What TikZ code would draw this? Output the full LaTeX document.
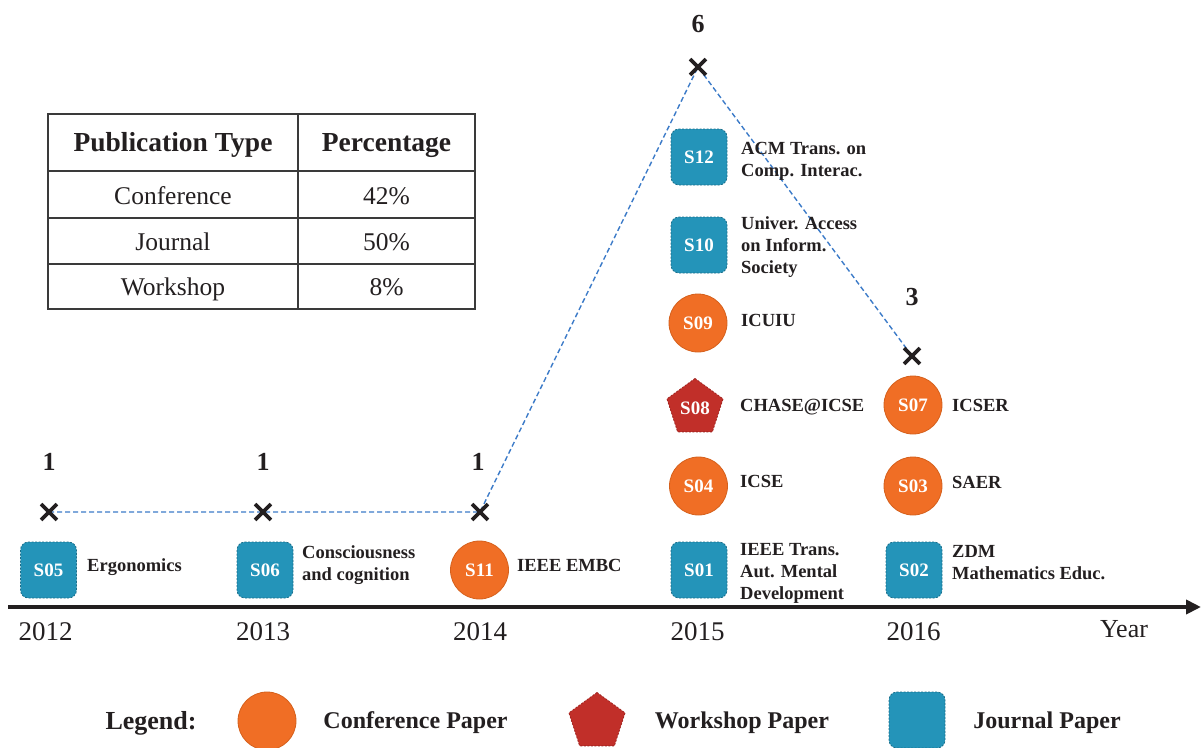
\documentclass[tikz,border=0pt]{standalone}
\usepackage{fontspec}
\setmainfont{Liberation Serif}
\usetikzlibrary{shapes.geometric,shapes.misc,arrows.meta,backgrounds}

\definecolor{confor}{HTML}{F06E25}
\definecolor{confedge}{HTML}{D5601C}
\definecolor{jrnl}{HTML}{2494B9}
\definecolor{jrnledge}{HTML}{1A6E8A}
\definecolor{wkshp}{HTML}{C12F29}
\definecolor{wkedge}{HTML}{A02420}
\definecolor{trend}{HTML}{3C7BC8}
\definecolor{ink}{HTML}{231F20}
\definecolor{rule}{HTML}{3A3A3A}

\tikzset{
  idfont/.style={font=\fontsize{19}{22}\selectfont\bfseries, text=white},
  conf/.style={circle, fill=confor, draw=confedge, line width=0.8pt,
    minimum size=58pt, inner sep=0pt, idfont},
  jour/.style={rectangle, rounded corners=8pt, fill=jrnl, draw=jrnledge,
    dash pattern=on 2pt off 1.5pt, line width=0.8pt,
    minimum width=56pt, minimum height=56pt, inner sep=0pt, idfont},
  wshop/.style={regular polygon, regular polygon sides=5, minimum size=59pt,
    fill=wkshp, draw=wkedge, dash pattern=on 2pt off 1.5pt, line width=0.8pt,
    inner sep=0pt, idfont},
  % multi-line venues are placed by the baseline of their last line
  venue/.style={anchor=base west, align=left, inner sep=0pt, text=ink,
    font=\fontsize{18.5}{22}\selectfont\bfseries},
  count/.style={anchor=base, inner sep=0pt, text=ink,
    font=\fontsize{26}{30}\selectfont\bfseries},
  yearlab/.style={anchor=base, inner sep=0pt, text=ink,
    font=\fontsize{27}{30}\selectfont},
  xmark/.style={cross out, draw=ink, line width=3.8pt, minimum size=12pt,
    inner sep=0pt},
  trendline/.style={draw=trend, dash pattern=on 5pt off 3pt, line width=1.4pt},
  cellhead/.style={anchor=base, inner sep=0pt, text=ink,
    font=\fontsize{27.5}{30}\selectfont\bfseries},
  cell/.style={anchor=base, inner sep=0pt, text=ink,
    font=\fontsize{25.5}{30}\selectfont},
  legtext/.style={anchor=base, inner sep=0pt, text=ink,
    font=\fontsize{24}{28}\selectfont\bfseries},
}

\begin{document}
\begin{tikzpicture}[x=1pt, y=-1pt]
\useasboundingbox (0,0) rectangle (1202,747);
\clip (0,0) rectangle (1202,747);

% summary table
\draw[rule, line width=1.5pt] (48,114) rectangle (475,309);
\draw[rule, line width=1.5pt] (298,114) -- (298,309);
\foreach \yy in {171,218,264} \draw[rule, line width=1.2pt] (48,\yy) -- (475,\yy);
\node[cellhead] (h1) at (173,151) {Publication Type};
\node[cellhead] (h2) at (386.5,151) {Percentage};
\node[cell] (c1) at (173,204) {Conference};
\node[cell] (p1) at (386.5,204) {42\%};
\node[cell] (c2) at (173,250) {Journal};
\node[cell] (p2) at (386.5,250) {50\%};
\node[cell] (c3) at (173,295) {Workshop};
\node[cell] (p3) at (386.5,295) {8\%};

% time axis
\coordinate (axstart) at (8,607);
\coordinate (axend) at (1201,607);
\draw[ink, line width=4pt, -{Triangle[length=15pt, width=14pt]}] (axstart) -- (axend);
\node[yearlab] (y12) at (45.5,640) {2012};
\node[yearlab] (y13) at (263,640) {2013};
\node[yearlab] (y14) at (480,640) {2014};
\node[yearlab] (y15) at (697.5,640) {2015};
\node[yearlab] (y16) at (913.5,640) {2016};
\node[yearlab, font=\fontsize{26}{30}\selectfont] (ylab) at (1124,637) {Year};

% publications per year
\node[xmark] (m12) at (49,512) {};
\node[xmark] (m13) at (263,512) {};
\node[xmark] (m14) at (480,512) {};
\node[xmark] (m15) at (698,67) {};
\node[xmark] (m16) at (912,356) {};
\begin{pgfonlayer}{background}
\draw[trendline] (m12.center) -- (m13.center) -- (m14.center) -- (m15.center) -- (m16.center);
\end{pgfonlayer}
\node[count] (n12) at (49,470) {1};
\node[count] (n13) at (263,470) {1};
\node[count] (n14) at (478,470) {1};
\node[count] (n15) at (698,32) {6};
\node[count] (n16) at (912,305) {3};

% 2012
\node[jour] (s05) at (48.5,570) {S05};
\node[venue] (v05) at (87,571) {Ergonomics};
% 2013
\node[jour] (s06) at (265,570) {S06};
\node[venue] (v06) at (302,580) {Consciousness\\and cognition};
% 2014
\node[conf] (s11) at (479.5,570) {S11};
\node[venue] (v11) at (517,571) {IEEE EMBC};
% 2015
\node[jour] (s12) at (699,157) {S12};
\node[venue] (v12) at (741,176) {ACM Trans. on\\Comp. Interac.};
\node[jour] (s10) at (699,245) {S10};
\node[venue] (v10) at (741,273) {Univer. Access\\on Inform.\\Society};
\node[conf] (s09) at (698,323) {S09};
\node[venue] (v09) at (741,326) {ICUIU};
\node[wshop] (s08) at (695,408) {S08};
\node[venue] (v08) at (740,411) {CHASE@ICSE};
\node[conf] (s04) at (698.5,486) {S04};
\node[venue] (v04) at (740,487) {ICSE};
\node[jour] (s01) at (699,570) {S01};
\node[venue] (v01) at (740,599) {IEEE Trans.\\Aut. Mental\\Development};
% 2016
\node[conf] (s07) at (913,405) {S07};
\node[venue] (v07) at (952,411) {ICSER};
\node[conf] (s03) at (913,486) {S03};
\node[venue] (v03) at (952,488) {SAER};
\node[jour] (s02) at (914,570) {S02};
\node[venue] (v02) at (952,579) {ZDM\\Mathematics Educ.};

% legend
\node[legtext, font=\fontsize{26}{30}\selectfont\bfseries] (leg) at (151,729) {Legend:};
\node[conf] (lc) at (267,721) {};
\node[legtext] (lct) at (415.5,728) {Conference Paper};
\node[wshop] (lw) at (597,722) {};
\node[legtext] (lwt) at (742,728) {Workshop Paper};
\node[jour] (lj) at (917,720) {};
\node[legtext] (ljt) at (1047,728) {Journal Paper};
\end{tikzpicture}
\end{document}
